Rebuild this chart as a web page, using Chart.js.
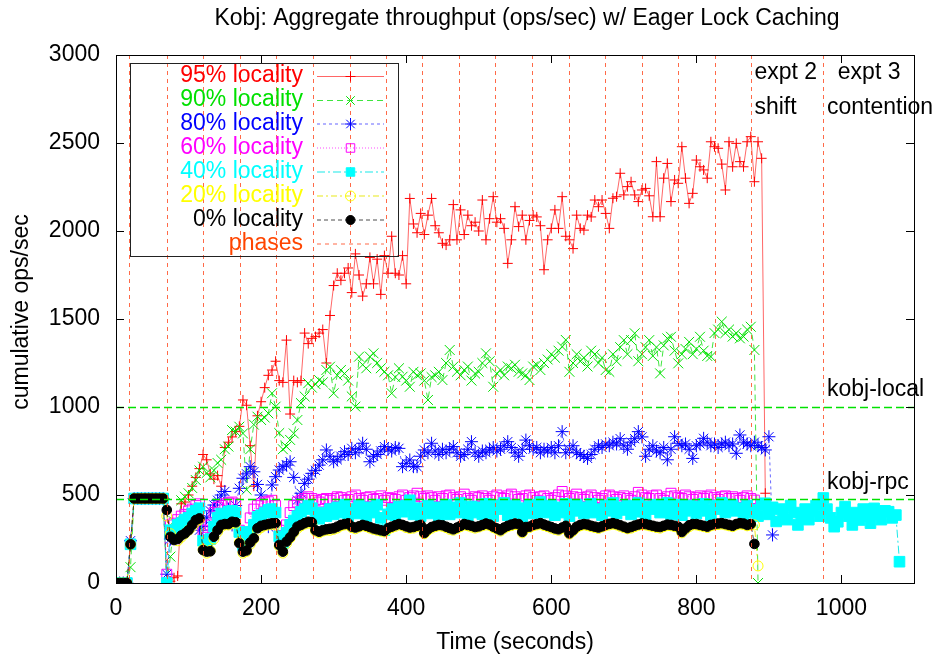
<!DOCTYPE html>
<html>
<head>
<meta charset="utf-8">
<script src="https://cdn.jsdelivr.net/npm/chart.js@4.4.1/dist/chart.umd.min.js"></script>
<style>
  html, body { margin: 0; padding: 0; background: #fff; }
  #c { display: block; }
</style>
</head>
<body>
<canvas id="c" width="942" height="658"></canvas>
<script>
// sample times (seconds), one sample every 5 s
const times = [
  0,5,10,15,20,25,30,35,40,45,50,55,60,65,70,75,80,85,90,95,
  100,105,110,115,120,125,130,135,140,145,150,155,160,165,170,175,180,185,190,195,
  200,205,210,215,220,225,230,235,240,245,250,255,260,265,270,275,280,285,290,295,
  300,305,310,315,320,325,330,335,340,345,350,355,360,365,370,375,380,385,390,395,
  400,405,410,415,420,425,430,435,440,445,450,455,460,465,470,475,480,485,490,495,
  500,505,510,515,520,525,530,535,540,545,550,555,560,565,570,575,580,585,590,595,
  600,605,610,615,620,625,630,635,640,645,650,655,660,665,670,675,680,685,690,695,
  700,705,710,715,720,725,730,735,740,745,750,755,760,765,770,775,780,785,790,795,
  800,805,810,815,820,825,830,835,840,845,850,855,860,865,870,875,880,885,890,895,
  900,905,910,915,920,925,930,935,940,945,950,955,960,965,970,975,980,985,990,995,
  1000,1005,1010,1015,1020,1025,1030,1035,1040,1045,1050,1055,1060,1065,1070,1075,1080
];

const loc95 = [
  0,0,0,0,210,480,480,480,480,480,480,480,480,480, 20,10,30,40,450,460,
  500,550,600,650,730,700,620,590,610,550,
  770,800,830,860,890,1040,1010,780,550,950,
  1030,1110,1180,1210,1260,1150,1140,1380,960,1150,
  1140,1150,1420,1360,1390,1400,1420,1440,1250,1520,
  1690,1760,1720,1760,1790,1650,1870,1750,1630,1700,
  1850,1700,1840,1640,1860,1760,1970,1760,1750,1860,
  1700,2185,2040,1990,2100,1980,2090,2185,2030,1990,
  1930,1920,1950,2150,1950,2120,1980,2090,2030,2050,
  2000,2176,1950,2070,2195,2050,2070,2015,1816,1950,
  2138,2025,2090,1950,2060,2090,2080,2030,1780,1950,
  2015,2120,2015,2195,1970,1950,1900,2090,2015,2005,
  2090,2080,2176,2138,2176,2100,2015,2186,2195,2328,
  2205,2252,2280,2205,2167,2233,2242,2200,2081,2394,
  2081,2300,2384,2167,2290,2271,2479,2300,2157,2214,
  2403,2365,2347,2300,2507,2479,2470,2380,2233,2507,
  2365,2498,2394,2365,2507,2536,2280,2507,2413,510
];

const loc90 = [
  0,0,0,0,90,480,480,480,480,480,480,480,480,480, 0,150,350,300,470,490,
  510,540,585,640,661,625,600,640,682,700,
  760,775,869,860,888,850,530,760,900,945,
  926,940,964,1078,1002,852,760,775,813,850,
  926,1022,1060,1135,1110,1130,1153,1140,1210,1229,
  1078,1180,1210,1190,1150,1060,1002,1286,1240,1220,
  1286,1305,1250,1220,1200,1180,1078,1170,1220,1172,
  1150,1115,1200,1180,1191,1150,1040,1170,1180,1200,
  1153,1250,1324,1230,1200,1180,1210,1230,1150,1190,
  1200,1250,1305,1260,1115,1190,1210,1180,1230,1220,
  1240,1200,1191,1180,1153,1230,1240,1210,1250,1270,
  1300,1280,1320,1343,1381,1200,1250,1300,1260,1280,
  1230,1320,1300,1250,1280,1210,1200,1300,1260,1340,
  1380,1300,1380,1419,1260,1300,1340,1380,1290,1340,
  1191,1350,1390,1399,1320,1248,1300,1330,1370,1300,
  1330,1399,1320,1290,1286,1420,1440,1485,1420,1440,
  1400,1420,1390,1400,1440,1456,1324,0
];

const loc80 = [
  0,0,0,0,240,480,480,480,480,480,480,480,480,480, 50,250,290,320,340,360,
  380,390,420,300,320,370,410,443,470,500,
  520,420,330,440,538,595,620,661,632,560,
  500,400,320,557,604,642,661,670,689,600,
  471,510,566,590,623,640,670,700,756,720,
  689,700,720,746,730,765,740,760,794,760,
  689,720,730,750,775,760,750,770,765,661,
  680,699,661,661,720,756,740,794,750,730,
  760,740,760,775,740,720,730,760,803,740,
  720,750,740,760,770,750,760,780,803,770,
  740,720,760,812,780,760,770,740,760,750,
  770,740,780,860,740,760,780,740,730,720,
  708,730,760,780,770,790,780,800,790,820,
  780,760,800,820,860,830,720,760,780,750,
  740,770,700,760,831,794,780,790,760,708,
  780,790,822,800,780,790,770,790,800,780,
  790,737,841,800,790,780,800,780,770,756,
  831,273
];

const loc60 = [
  0,0,0,0,220,480,480,480,480,480,480,480,480,480, 50,330,340,360,380,390,
  410,420,440,450,300,260,330,400,430,440,
  450,455,460,450,300,260,290,370,420,440,
  450,460,462,470,440,300,270,330,400,440,
  460,470,480,490,480,470,460,475,480,470,
  480,490,485,470,475,490,500,480,470,485,
  490,475,480,495,470,485,480,475,490,500,
  470,485,495,510,490,480,495,485,470,490,
  480,495,500,485,475,490,505,480,470,490,
  485,495,480,470,490,500,485,480,495,505,
  490,475,480,495,500,485,470,490,495,480,
  470,485,500,520,495,480,490,505,485,475,
  490,500,485,470,480,495,500,490,475,485,
  495,480,470,490,515,500,485,480,495,500,
  480,470,490,510,495,485,480,500,490,475,
  485,495,480,490,500,485,475,490,495,480,
  490,480,470,485,495,480,471
];

const loc40 = [
  0,0,0,0,220,480,480,480,480,480,480,480,480,480, 0,300,280,330,340,360,
  370,395,410,425,240,210,250,320,370,395,
  385,405,410,400,290,215,235,290,330,375,
  385,400,415,420,400,265,225,285,330,355,
  380,405,420,440,425,385,365,400,380,420,
  390,430,400,445,375,420,395,440,410,380,
  430,400,445,370,300,390,420,385,435,405,
  440,470,390,425,380,420,440,395,430,375,
  420,445,390,430,400,455,410,380,435,400,
  430,390,450,410,380,440,420,455,385,420,
  440,400,375,425,445,395,430,460,400,420,
  440,385,430,400,450,380,410,445,420,395,
  430,450,400,420,385,440,410,455,395,430,
  415,440,390,430,455,405,380,435,420,445,
  400,430,455,390,420,445,385,410,440,425,
  395,435,450,410,385,440,420,455,400,430,
  445,410,425,390,440,415,400,380,440,453,
  390,430,350,420,405,360,440,400,330,377,
  420,360,410,440,380,483,420,370,320,348,
  400,434,380,330,400,358,420,380,340,424,
  390,360,410,405,370,386,121
];

const loc20 = [
  0,0,0,0,220,480,480,480,480,480,480,480,480,480, 380,280,250,240,260,280,
  300,320,345,360,190,170,185,250,290,320,
  330,330,340,340,230,170,180,220,250,300,
  315,325,330,335,330,210,170,225,255,285,
  310,325,335,340,338,295,285,295,300,300,
  305,312,325,330,330,315,308,318,325,320,
  312,305,300,295,290,305,315,322,330,325,
  315,310,312,320,325,280,300,312,320,325,
  322,315,305,300,310,320,330,325,318,312,
  318,325,330,328,315,305,295,310,320,326,
  332,330,285,312,315,325,330,335,326,320,
  312,305,300,310,320,278,295,315,325,330,
  326,320,315,310,318,325,330,335,330,322,
  315,308,312,320,328,332,330,325,320,315,
  312,320,326,325,320,315,285,305,320,330,
  330,325,320,315,325,330,332,335,330,325,
  320,330,335,332,325,330,330,97
];

const loc0 = [
  0,0,0,0,220,480,480,480,480,480,480,480,480,480, 415,263,244,250,270,282,
  300,330,358,367,187,178,180,263,300,330,
  335,335,348,345,226,178,185,230,254,311,
  325,330,335,339,340,216,178,235,260,290,
  320,330,340,348,345,300,291,300,305,308,
  311,320,330,335,339,320,315,322,330,325,
  318,310,305,300,295,312,320,328,335,330,
  322,315,318,325,330,284,305,318,325,330,
  328,320,312,305,315,325,335,330,325,318,
  322,330,338,332,320,310,300,315,325,332,
  338,335,290,318,320,330,335,340,332,325,
  318,310,305,315,325,282,300,320,330,335,
  332,325,320,315,322,330,336,340,335,328,
  320,312,318,326,332,338,335,330,325,320,
  318,325,332,330,325,320,290,310,328,335,
  335,330,325,320,330,335,338,340,335,330,
  325,335,340,338,330,335,222
];

const seriesNames = ['95% locality','90% locality','80% locality','60% locality','40% locality','20% locality','0% locality'];
const seriesValues = [loc95, loc90, loc80, loc60, loc40, loc20, loc0];

// phase boundaries (seconds)
const phases = [18,70,120,171,221,271,322,372,422,473,523,574,624,674,725,775,825,875,975];
// reference throughput levels
const refLevels = [1000, 478];
const refNames = ['kobj-local', 'kobj-rpc'];

const xTicks = [0,200,400,600,800,1000];
const yTicks = [0,500,1000,1500,2000,2500,3000];

const FONT = '"Liberation Sans", Arial, Helvetica, sans-serif';

const styles = [
  { color: '#ff0000', line: 'rgba(255,0,0,0.6)',   dash: [],          point: 'cross',    r: 5,   filled: false },
  { color: '#00e000', line: 'rgba(0,220,0,0.75)',  dash: [6,4],       point: 'crossRot', r: 7,   filled: false },
  { color: '#0000ff', line: 'rgba(0,0,255,0.6)',   dash: [3,3],       point: 'star',     r: 6.5, filled: false },
  { color: '#ff00ff', line: 'rgba(255,0,255,0.7)', dash: [1,2],       point: 'rect',     r: 7,   filled: false },
  { color: '#00ffff', line: 'rgba(0,230,230,0.9)', dash: [8,3,2,3],   point: 'rect',     r: 7.5, filled: true },
  { color: '#ffff00', line: 'rgba(230,230,0,0.9)', dash: [6,3,2,3],   point: 'circle',   r: 5,   filled: false },
  { color: '#000000', line: 'rgba(0,0,0,0.7)',     dash: [4,3],       point: 'circle',   r: 4.8, filled: true }
];
const phaseColor = 'rgba(255,80,40,0.85)';
const refColor = 'rgb(0,225,0)';

const datasets = seriesValues.map((vals, i) => ({
  label: seriesNames[i],
  data: vals.map((v, k) => ({ x: times[k], y: v })),
  borderColor: styles[i].line,
  borderWidth: 1,
  borderDash: styles[i].dash,
  pointStyle: styles[i].point,
  pointRadius: styles[i].r,
  pointBorderColor: styles[i].color,
  pointBackgroundColor: styles[i].filled ? styles[i].color : 'rgba(0,0,0,0)',
  pointBorderWidth: 1,
  tension: 0,
  order: seriesValues.length - i
}));

function marker(ctx, s, x, y, r) {
  ctx.save();
  ctx.setLineDash([]);
  ctx.strokeStyle = s.color;
  ctx.fillStyle = s.color;
  ctx.lineWidth = 1;
  ctx.beginPath();
  if (s.point === 'cross' || s.point === 'star') {
    ctx.moveTo(x - r, y); ctx.lineTo(x + r, y);
    ctx.moveTo(x, y - r); ctx.lineTo(x, y + r);
  }
  if (s.point === 'crossRot' || s.point === 'star') {
    const d = r * Math.SQRT1_2;
    ctx.moveTo(x - d, y - d); ctx.lineTo(x + d, y + d);
    ctx.moveTo(x - d, y + d); ctx.lineTo(x + d, y - d);
  }
  if (s.point === 'rect') {
    const d = r * Math.SQRT1_2;
    ctx.rect(x - d, y - d, 2 * d, 2 * d);
  }
  if (s.point === 'circle') {
    ctx.arc(x, y, r, 0, Math.PI * 2);
  }
  if (s.filled) ctx.fill();
  ctx.stroke();
  ctx.restore();
}

const overlay = {
  id: 'overlay',
  afterDatasetsDraw(chart) {
    const { ctx, chartArea: a, scales: { x, y } } = chart;
    ctx.save();

    // phase boundaries
    ctx.strokeStyle = phaseColor;
    ctx.lineWidth = 1;
    ctx.setLineDash([4, 4]);
    phases.forEach(p => {
      const px = Math.round(x.getPixelForValue(p)) + 0.5;
      ctx.beginPath(); ctx.moveTo(px, a.top); ctx.lineTo(px, a.bottom); ctx.stroke();
    });

    // reference levels
    ctx.strokeStyle = refColor;
    ctx.lineWidth = 1.3;
    ctx.setLineDash([8, 4]);
    refLevels.forEach(v => {
      const py = Math.round(y.getPixelForValue(v)) + 0.5;
      ctx.beginPath(); ctx.moveTo(a.left, py); ctx.lineTo(a.right, py); ctx.stroke();
    });
    ctx.setLineDash([]);
    ctx.lineWidth = 1;

    // frame and inward ticks
    ctx.strokeStyle = '#000';
    ctx.strokeRect(a.left + 0.5, a.top + 0.5, a.right - a.left, a.bottom - a.top);
    ctx.beginPath();
    xTicks.forEach(v => {
      const px = Math.round(x.getPixelForValue(v)) + 0.5;
      ctx.moveTo(px, a.bottom); ctx.lineTo(px, a.bottom - 8);
      ctx.moveTo(px, a.top); ctx.lineTo(px, a.top + 8);
    });
    yTicks.forEach(v => {
      const py = Math.round(y.getPixelForValue(v)) + 0.5;
      ctx.moveTo(a.left, py); ctx.lineTo(a.left + 8, py);
      ctx.moveTo(a.right, py); ctx.lineTo(a.right - 8, py);
    });
    ctx.stroke();

    // labels
    ctx.fillStyle = '#000';
    ctx.font = '23px ' + FONT;
    ctx.textBaseline = 'middle';
    ctx.textAlign = 'left';
    const notes = [['expt 2', 880, 2900], ['shift', 880, 2700], ['expt 3', 995, 2900], ['contention', 980, 2700],
                   [refNames[0], 980, 1100], [refNames[1], 980, 570]];
    notes.forEach(([t, vx, vy]) => ctx.fillText(t, x.getPixelForValue(vx), y.getPixelForValue(vy)));

    // titles
    ctx.textAlign = 'center';
    ctx.fillText('Kobj: Aggregate throughput (ops/sec) w/ Eager Lock Caching', 527, 19);
    ctx.fillText('Time (seconds)', 515, 643);
    ctx.save();
    ctx.translate(22, 312);
    ctx.rotate(-Math.PI / 2);
    ctx.fillText('cumulative ops/sec', 0, 0);
    ctx.restore();

    // legend
    ctx.strokeStyle = '#222';
    ctx.strokeRect(130.5, 63.5, 268, 193);
    const rowY = [76, 100, 123.5, 147.5, 171.5, 195.5, 219.5, 243.5];
    const legR = [5, 6, 6, 6, 6, 5, 4.5];
    ctx.textAlign = 'right';
    seriesNames.forEach((name, i) => {
      const s = styles[i];
      const yy = rowY[i];
      ctx.fillStyle = s.color;
      ctx.fillText(name, 303, yy);
      ctx.strokeStyle = s.line;
      ctx.setLineDash(s.dash);
      ctx.beginPath(); ctx.moveTo(317, yy + 0.5); ctx.lineTo(384, yy + 0.5); ctx.stroke();
      ctx.setLineDash([]);
      marker(ctx, s, 350.5, yy + 0.5, legR[i]);
    });
    const yy = rowY[7];
    ctx.fillStyle = '#ff4500';
    ctx.fillText('phases', 303, yy);
    ctx.strokeStyle = phaseColor;
    ctx.setLineDash([4, 4]);
    ctx.beginPath(); ctx.moveTo(317, yy + 0.5); ctx.lineTo(384, yy + 0.5); ctx.stroke();

    ctx.restore();
  }
};

new Chart(document.getElementById('c'), {
  type: 'line',
  data: { datasets },
  options: {
    responsive: false,
    animation: false,
    devicePixelRatio: 1,
    layout: { padding: { top: 55, right: 28, left: 0, bottom: 0 } },
    plugins: { legend: { display: false }, tooltip: { enabled: false }, title: { display: false } },
    scales: {
      x: {
        type: 'linear', min: 0, max: 1100,
        afterBuildTicks: s => { s.ticks = xTicks.map(v => ({ value: v })); },
        afterFit: s => { s.height = 75; },
        grid: { display: false, drawTicks: false },
        border: { display: false },
        ticks: { color: '#000', font: { family: FONT, size: 23 }, padding: 12, maxRotation: 0, callback: v => String(v) }
      },
      y: {
        type: 'linear', min: 0, max: 3000,
        afterBuildTicks: s => { s.ticks = yTicks.map(v => ({ value: v })); },
        afterFit: s => { s.width = 116; },
        grid: { display: false, drawTicks: false },
        border: { display: false },
        ticks: { color: '#000', font: { family: FONT, size: 23 }, padding: 16, callback: v => String(v) }
      }
    }
  },
  plugins: [overlay]
});
</script>
</body>
</html>
